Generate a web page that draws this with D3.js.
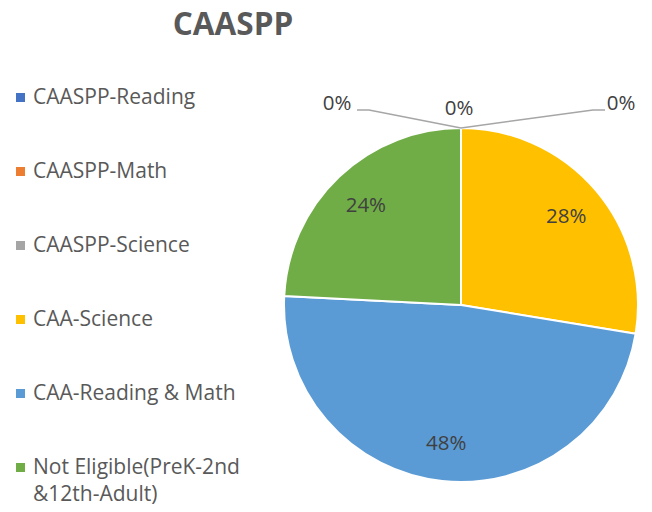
<!DOCTYPE html>
<html>
<head>
<meta charset="utf-8">
<script src="https://cdn.jsdelivr.net/npm/d3@7"></script>
<style>
  body { margin: 0; background: #fff; }
  svg { font-family: "Open Sans", sans-serif; display: block; }
</style>
</head>
<body>
<div id="canvas"></div>
<script>
// data
const categories = ["CAASPP-Reading", "CAASPP-Math", "CAASPP-Science", "CAA-Science", "CAA-Reading & Math", "Not Eligible(PreK-2nd &12th-Adult)"];
const shares = [0, 0, 0, 27.6, 48.2, 24.2];
const colours = ["#4472C4", "#ED7D31", "#A5A5A5", "#FFC000", "#5B9BD5", "#70AD47"];
const legendLines = [["CAASPP-Reading"], ["CAASPP-Math"], ["CAASPP-Science"], ["CAA-Science"], ["CAA-Reading & Math"], ["Not Eligible(PreK-2nd", "&12th-Adult)"]];

const width = 652, height = 512;
const cx = 461, cy = 305, radius = 177;

const svg = d3.select("#canvas")
  .append("svg")
  .attr("width", width)
  .attr("height", height);

// title
svg.append("text")
  .attr("x", 233)
  .attr("y", 35)
  .attr("text-anchor", "middle")
  .attr("font-size", 31.5)
  .attr("font-weight", "bold")
  .attr("fill", "#595959")
  .text("CAASPP");

// legend
const legendY = d3.scaleLinear().domain([0, categories.length - 1]).range([104, 474]);
const legend = svg.append("g").selectAll("g")
  .data(categories)
  .join("g")
  .attr("transform", (d, i) => "translate(0," + legendY(i) + ")");

legend.append("rect")
  .attr("x", 16)
  .attr("y", -11)
  .attr("width", 9)
  .attr("height", 9)
  .attr("fill", (d, i) => colours[i]);

legend.append("text")
  .attr("x", 33)
  .attr("font-size", 21)
  .attr("fill", "#595959")
  .selectAll("tspan")
  .data((d, i) => legendLines[i])
  .join("tspan")
  .attr("x", 33)
  .attr("dy", (d, j) => j === 0 ? 0 : 27)
  .text(d => d);

// pie
const pie = d3.pie().sort(null).value(d => d);
const arcs = pie(shares);
const arc = d3.arc().innerRadius(0).outerRadius(radius);
const labelArc = d3.arc().innerRadius(radius * 0.78).outerRadius(radius * 0.78);

const pieGroup = svg.append("g")
  .attr("transform", "translate(" + cx + "," + cy + ")");

pieGroup.selectAll("path")
  .data(arcs)
  .join("path")
  .attr("d", arc)
  .attr("fill", (d, i) => colours[i])
  .attr("stroke", "#fff")
  .attr("stroke-width", 2)
  .attr("stroke-linejoin", "round");

const fmt = d => Math.round(d.data) + "%";

// labels inside the big slices
pieGroup.selectAll("text.inner")
  .data(arcs.filter(d => d.data > 0))
  .join("text")
  .attr("class", "inner")
  .attr("transform", d => "translate(" + labelArc.centroid(d) + ")")
  .attr("dy", "0.36em")
  .attr("text-anchor", "middle")
  .attr("font-size", 20.5)
  .attr("fill", "#404040")
  .text(fmt);

// callout labels for the empty slices
const callouts = [
  {dx: -124, dy: -25, elbow: -92, anchor: "middle", line: true},
  {dx: -2, dy: -20, elbow: 0, anchor: "middle", line: false},
  {dx: 160, dy: -25, elbow: 132, anchor: "middle", line: true}
];
const zeroArcs = arcs.filter(d => d.data === 0);

zeroArcs.forEach((d, i) => {
  const c = callouts[i];
  const a = d.startAngle;
  const px = Math.sin(a) * radius, py = -Math.cos(a) * radius;
  if (c.line) {
    const sign = Math.sign(c.dx);
    const ey = py - 18;
    pieGroup.append("path")
      .attr("d", d3.line()([[px, py], [px + c.elbow, ey], [px + c.elbow + sign * 12, ey]]))
      .attr("fill", "none")
      .attr("stroke", "#A6A6A6")
      .attr("stroke-width", 1.5);
  }
  pieGroup.append("text")
    .attr("x", px + c.dx)
    .attr("y", py + c.dy)
    .attr("dy", "0.36em")
    .attr("text-anchor", c.anchor)
    .attr("font-size", 20.5)
    .attr("fill", "#404040")
    .text(fmt(d));
});
</script>
</body>
</html>
